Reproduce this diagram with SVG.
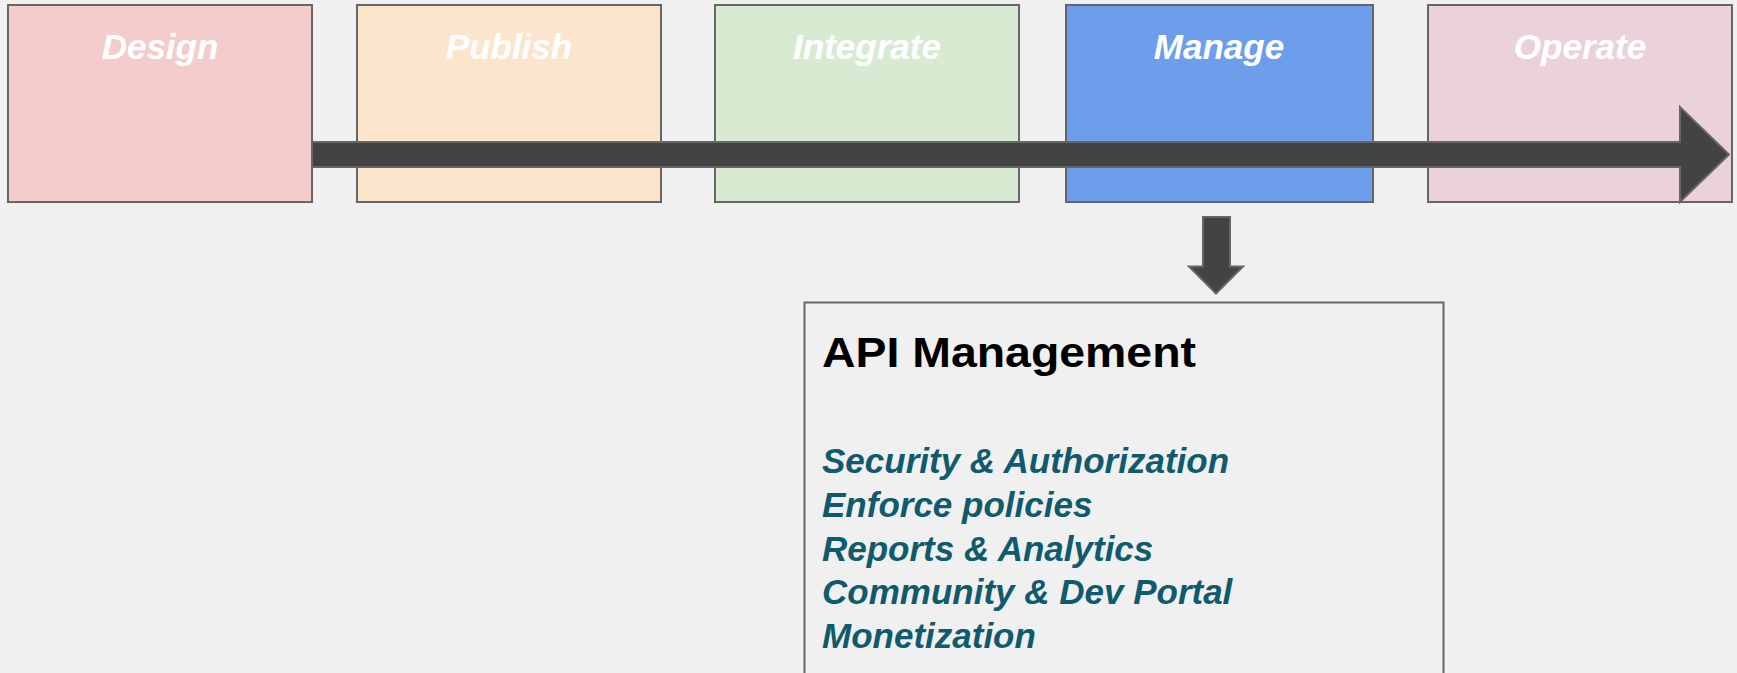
<svg xmlns="http://www.w3.org/2000/svg" width="1737" height="673" viewBox="0 0 1737 673">
<style>
.box{stroke:#666666;stroke-width:2}
.lbl{font-family:"Liberation Sans",Arial,sans-serif;font-weight:bold;font-style:italic;font-size:35px;fill:#ffffff;text-anchor:middle}
.arrow{fill:#434343;stroke:#666666;stroke-width:2;stroke-linejoin:miter}
.title{font-family:"Liberation Sans",Arial,sans-serif;font-weight:bold;font-size:42px;fill:#000000}
.item{font-family:"Liberation Sans",Arial,sans-serif;font-weight:bold;font-style:italic;font-size:35px;fill:#0f5a6c}
</style>
<rect width="1737" height="673" fill="#f0f0f0"/>
<g id="design"><rect class="box" x="8" y="5" width="304" height="197" fill="#f4cccc"/><text class="lbl" x="160" y="59">Design</text></g>
<g id="publish"><rect class="box" x="357" y="5" width="304" height="197" fill="#fce5cd"/><text class="lbl" x="509" y="59">Publish</text></g>
<g id="integrate"><rect class="box" x="715" y="5" width="304" height="197" fill="#d9ead3"/><text class="lbl" x="867" y="59">Integrate</text></g>
<g id="manage"><rect class="box" x="1066" y="5" width="307" height="197" fill="#6d9eeb"/><text class="lbl" x="1219" y="59">Manage</text></g>
<g id="operate"><rect class="box" x="1428" y="5" width="304" height="197" fill="#ead1dc"/><text class="lbl" x="1580" y="59">Operate</text></g>
<g id="connectors">
<polygon class="arrow" points="312,142 1680,142 1680,107 1729,154.5 1680,202 1680,167 312,167"/>
<polygon class="arrow" points="1203,217 1230,217 1230,266.5 1243,266.5 1216,293.5 1189,266.5 1203,266.5"/>
</g>
<g id="api-management">
<rect class="box" x="804.5" y="302.5" width="639" height="400" fill="#f0f0f0"/>
<text class="title" x="822" y="367" textLength="374" lengthAdjust="spacingAndGlyphs">API Management</text>
<text class="item" x="822" y="473">Security &amp; Authorization</text>
<text class="item" x="822" y="517">Enforce policies</text>
<text class="item" x="822" y="561">Reports &amp; Analytics</text>
<text class="item" x="822" y="604">Community &amp; Dev Portal</text>
<text class="item" x="822" y="648">Monetization</text>
</g>
</svg>
